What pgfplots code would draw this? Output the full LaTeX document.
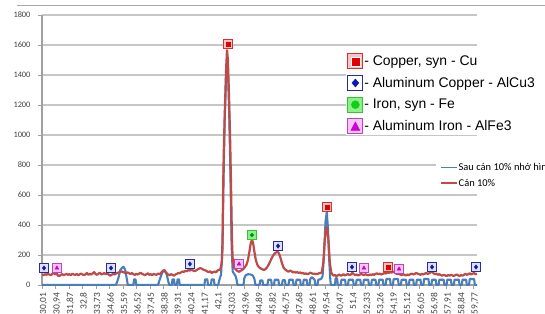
\documentclass[border=0pt]{standalone}
\usepackage{pgfplots}
\usepackage{pgfplotstable}
\pgfplotsset{compat=1.18}
\usepackage{fontspec}
\setmainfont{Carlito}
\newfontfamily\arialf{Liberation Sans}
\definecolor{ser1}{HTML}{4A7EBB}
\definecolor{ser2}{HTML}{BE4B48}
\definecolor{gridc}{HTML}{C6C6C6}
\definecolor{axc}{HTML}{A0A0A0}
\definecolor{cuD}{HTML}{D83030}
\definecolor{cuL}{HTML}{F8C4C4}
\definecolor{cuI}{HTML}{E00000}
\definecolor{acD}{HTML}{2A2AA0}
\definecolor{acL}{HTML}{DCE0F8}
\definecolor{acI}{HTML}{0A1AB0}
\definecolor{feD}{HTML}{38C038}
\definecolor{feL}{HTML}{8CF08C}
\definecolor{feI}{HTML}{10D010}
\definecolor{afD}{HTML}{B848B8}
\definecolor{afL}{HTML}{F6C4F6}
\definecolor{afI}{HTML}{D000D0}

\pgfplotstableread[row sep=\\]{x y\\ 42.83 1607\\ 49.66 520\\ 53.86 120\\}\cutab
\pgfplotstableread[row sep=\\]{x y\\ 30.14 113\\ 34.76 113\\ 40.20 140\\ 46.28 260\\ 51.38 120\\ 56.90 120\\ 59.93 120\\}\actab
\pgfplotstableread[row sep=\\]{x y\\ 44.48 333\\}\fetab
\pgfplotstableread[row sep=\\]{x y\\ 31.03 113\\ 43.59 140\\ 52.20 113\\ 54.62 107\\}\aftab

\begin{document}
\begin{tikzpicture}[x=1bp,y=1bp]
\draw[gridc!85!black, line width=0.8bp] (17,308) -- (545,308);
\begin{axis}[
  at={(42bp,28bp)}, anchor=south west, scale only axis,
  width=435bp, height=270bp,
  xmin=30, xmax=60, ymin=0, ymax=1800,
  ytick={0,200,...,1800},
  xtick={30.01,30.94,31.87,32.80,33.73,34.66,35.59,36.52,37.45,38.38,39.31,40.24,41.17,42.10,43.03,43.96,44.89,45.82,46.75,47.68,48.61,49.54,50.47,51.40,52.33,53.26,54.19,55.12,56.05,56.98,57.91,58.84,59.77},
  xticklabels={{30,01},{30,94},{31,87},{32,8},{33,73},{34,66},{35,59},{36,52},{37,45},{38,38},{39,31},{40,24},{41,17},{42,1},{43,03},{43,96},{44,89},{45,82},{46,75},{47,68},{48,61},{49,54},{50,47},{51,4},{52,33},{53,26},{54,19},{55,12},{56,05},{56,98},{57,91},{58,84},{59,77}},
  axis x line*=bottom, axis y line*=left,
  axis line style={-, axc, line width=1.2bp},
  ymajorgrids, grid style={gridc, line width=1.2bp},
  tick style={axc, line width=0.8bp}, major tick length=4bp, tick align=outside,
  yticklabel style={font=\fontsize{8.4}{9}\selectfont, text=black!75, xshift=-4bp},
  xticklabel style={rotate=90, anchor=east, font=\fontsize{9.5}{10}\selectfont, text=black!75, yshift=-1.5bp},
  /pgf/number format/assume math mode=true,
  /pgf/number format/1000 sep={},
  legend cell align=left,
  legend image code/.code={\draw[#1, line width=1.8bp] (0bp,0bp) -- (16bp,0bp);},
  legend style={at={(axis description cs:0.905,0.463)}, anchor=north west, draw=none, fill=white,
    inner xsep=4bp, inner ysep=2bp, font=\fontsize{10.5}{11}\selectfont, row sep=5bp,
    nodes={inner sep=1bp}},
]
\addplot[ser1, line width=2.1bp, line join=round] table[row sep=\\]{x y\\
30.0 0\\ 35.1 0\\ 35.25 40\\ 35.4 100\\ 35.55 118\\ 35.65 120\\ 35.75 95\\ 35.85 40\\ 35.92 0\\ 36.3 0\\ 36.35 38\\ 36.45 38\\ 36.5 0\\
38.0 0\\ 38.15 45\\ 38.3 85\\ 38.45 100\\ 38.6 70\\ 38.72 20\\ 38.78 0\\ 38.95 0\\ 39.0 38\\ 39.1 38\\ 39.15 0\\ 39.3 0\\ 39.35 38\\ 39.45 38\\ 39.5 0\\
41.2 0\\ 41.25 38\\ 41.4 38\\ 41.45 0\\ 41.65 0\\ 41.7 38\\ 41.85 38\\ 41.9 0\\ 42.15 0\\ 42.25 40\\ 42.35 70\\ 42.45 250\\ 42.52 700\\ 42.6 1100\\ 42.7 1400\\ 42.76 1500\\ 42.84 1380\\ 42.92 1100\\ 43.0 700\\ 43.08 250\\ 43.15 90\\ 43.25 75\\ 43.35 60\\ 43.42 35\\ 43.48 0\\
43.9 0\\ 43.95 45\\ 44.05 65\\ 44.2 72\\ 44.4 70\\ 44.55 62\\ 44.65 40\\ 44.72 0\\ 45.0 0\\ 45.05 30\\ 45.2 30\\ 45.25 0\\ 45.55 0\\ 45.6 35\\ 45.8 35\\ 45.85 0\\ 46.0 0\\ 46.05 35\\ 46.3 35\\ 46.35 0\\ 46.55 0\\ 46.6 32\\ 46.75 32\\ 46.8 0\\
47.0 0\\ 47.05 35\\ 47.3 35\\ 47.35 0\\ 47.5 0\\ 47.55 35\\ 47.8 35\\ 47.85 0\\ 48.0 0\\ 48.05 35\\ 48.25 35\\ 48.3 0\\ 48.45 0\\ 48.5 40\\ 48.6 52\\ 48.7 45\\ 48.8 35\\ 48.85 0\\ 49.0 0\\ 49.05 35\\ 49.25 40\\ 49.35 60\\ 49.45 200\\ 49.55 420\\ 49.64 487\\ 49.72 380\\ 49.8 180\\ 49.88 40\\ 49.92 0\\
50.2 0\\ 50.25 45\\ 50.35 45\\ 50.4 0\\ 50.6 0\\ 50.65 35\\ 50.9 35\\ 50.95 0\\ 51.1 0\\ 51.15 35\\ 51.45 35\\ 51.5 0\\ 51.65 0\\ 51.7 35\\ 51.95 35\\ 52.0 0\\ 52.15 0\\ 52.2 35\\ 52.5 35\\ 52.55 0\\ 52.7 0\\ 52.75 35\\ 53.0 35\\ 53.05 0\\ 53.2 0\\ 53.25 35\\ 53.5 35\\ 53.55 0\\ 53.7 0\\ 53.75 40\\ 54.0 40\\ 54.05 0\\ 54.2 0\\ 54.25 40\\ 54.55 40\\ 54.6 0\\ 54.75 0\\ 54.8 35\\ 55.1 35\\ 55.15 0\\ 55.3 0\\ 55.35 35\\ 55.6 35\\ 55.65 0\\ 55.8 0\\ 55.85 35\\ 56.1 35\\ 56.15 0\\ 56.3 0\\ 56.35 40\\ 56.65 40\\ 56.7 0\\ 56.85 0\\ 56.9 35\\ 57.15 35\\ 57.2 0\\ 57.35 0\\ 57.4 35\\ 57.7 35\\ 57.75 0\\ 57.9 0\\ 57.95 35\\ 58.2 35\\ 58.25 0\\ 58.4 0\\ 58.45 35\\ 58.75 35\\ 58.8 0\\ 58.95 0\\ 59.0 35\\ 59.25 35\\ 59.3 0\\ 59.45 0\\ 59.5 40\\ 59.8 40\\ 59.85 0\\ 60.0 0\\
};
\addlegendentry{Sau cán 10\% nhớ hình}
\addplot[ser2, line width=2.2bp, line join=round] table[row sep=\\]{x y\\
30.0 70\\ 30.1 65\\ 30.2 72\\ 30.3 68\\ 30.4 75\\ 30.5 70\\ 30.6 66\\ 30.7 72\\ 30.8 85\\ 30.9 72\\ 31.0 80\\ 31.1 62\\ 31.2 60\\ 31.3 68\\ 31.4 72\\ 31.5 66\\ 31.6 70\\ 31.7 74\\ 31.8 68\\ 31.9 72\\
32.0 66\\ 32.1 75\\ 32.2 70\\ 32.3 68\\ 32.4 73\\ 32.5 65\\ 32.6 71\\ 32.7 76\\ 32.8 70\\ 32.9 66\\ 33.0 72\\ 33.1 80\\ 33.2 68\\ 33.3 74\\ 33.4 70\\ 33.5 78\\ 33.6 86\\ 33.7 72\\ 33.8 68\\ 33.9 76\\
34.0 82\\ 34.1 70\\ 34.2 74\\ 34.3 80\\ 34.4 72\\ 34.5 76\\ 34.6 70\\ 34.7 62\\ 34.8 68\\ 34.9 74\\ 35.0 70\\ 35.1 76\\ 35.2 80\\ 35.3 84\\ 35.4 88\\ 35.5 90\\ 35.6 86\\ 35.7 82\\ 35.8 80\\ 35.9 84\\
36.0 78\\ 36.1 74\\ 36.2 80\\ 36.3 72\\ 36.4 68\\ 36.5 74\\ 36.6 70\\ 36.7 76\\ 36.8 82\\ 36.9 74\\ 37.0 70\\ 37.1 66\\ 37.2 72\\ 37.3 78\\ 37.4 68\\ 37.5 72\\ 37.6 66\\ 37.7 74\\ 37.8 70\\ 37.9 68\\
38.0 76\\ 38.1 72\\ 38.2 80\\ 38.3 92\\ 38.4 98\\ 38.5 90\\ 38.6 78\\ 38.7 70\\ 38.8 66\\ 38.9 72\\ 39.0 68\\ 39.1 62\\ 39.2 70\\ 39.3 74\\ 39.4 80\\ 39.5 78\\ 39.6 85\\ 39.7 90\\ 39.8 88\\ 39.9 95\\
40.0 92\\ 40.1 100\\ 40.2 96\\ 40.3 104\\ 40.4 98\\ 40.5 92\\ 40.6 96\\ 40.7 102\\ 40.8 108\\ 40.9 112\\ 41.0 110\\ 41.1 104\\ 41.2 100\\ 41.3 96\\ 41.4 90\\ 41.5 86\\ 41.6 92\\ 41.7 80\\ 41.8 86\\ 41.9 90\\
42.0 84\\ 42.1 96\\ 42.2 100\\ 42.3 105\\ 42.4 150\\ 42.45 300\\ 42.5 700\\ 42.55 950\\ 42.62 1200\\ 42.7 1450\\ 42.76 1565\\ 42.82 1500\\ 42.9 1250\\ 42.98 950\\ 43.04 650\\ 43.1 300\\ 43.16 150\\ 43.25 115\\
43.4 100\\ 43.5 92\\ 43.6 88\\ 43.7 95\\ 43.8 100\\ 43.9 108\\ 44.0 120\\ 44.1 135\\ 44.2 165\\ 44.3 220\\ 44.4 280\\ 44.48 300\\ 44.55 285\\ 44.65 220\\ 44.75 165\\ 44.85 135\\ 44.95 120\\ 45.05 112\\
45.2 105\\ 45.3 100\\ 45.4 105\\ 45.5 115\\ 45.6 130\\ 45.7 150\\ 45.8 170\\ 45.9 190\\ 46.0 205\\ 46.1 215\\ 46.25 222\\ 46.35 210\\ 46.45 180\\ 46.55 145\\ 46.65 118\\ 46.75 105\\ 46.85 98\\
47.0 88\\ 47.1 96\\ 47.2 92\\ 47.3 84\\ 47.4 88\\ 47.5 82\\ 47.6 86\\ 47.7 80\\ 47.8 84\\ 47.9 78\\ 48.0 80\\ 48.1 74\\ 48.2 78\\ 48.3 72\\ 48.4 76\\ 48.5 82\\ 48.6 78\\ 48.7 74\\ 48.8 76\\ 48.9 72\\
49.0 74\\ 49.1 78\\ 49.2 80\\ 49.3 85\\ 49.4 150\\ 49.5 300\\ 49.6 380\\ 49.66 385\\ 49.75 300\\ 49.85 150\\ 49.95 80\\
50.0 75\\ 50.1 62\\ 50.2 66\\ 50.3 60\\ 50.4 64\\ 50.5 70\\ 50.6 62\\ 50.7 66\\ 50.8 72\\ 50.9 64\\ 51.0 68\\ 51.1 74\\ 51.2 66\\ 51.3 70\\ 51.4 82\\ 51.5 72\\ 51.6 66\\ 51.7 70\\ 51.8 64\\ 51.9 68\\
52.0 74\\ 52.1 70\\ 52.2 66\\ 52.3 72\\ 52.4 68\\ 52.5 64\\ 52.6 70\\ 52.7 66\\ 52.8 72\\ 52.9 68\\ 53.0 74\\ 53.1 78\\ 53.2 72\\ 53.3 76\\ 53.4 70\\ 53.5 74\\ 53.6 80\\ 53.7 76\\ 53.8 84\\ 53.9 80\\
54.0 86\\ 54.1 82\\ 54.2 90\\ 54.3 84\\ 54.4 78\\ 54.5 72\\ 54.6 76\\ 54.7 70\\ 54.8 66\\ 54.9 72\\ 55.0 68\\ 55.1 64\\ 55.2 70\\ 55.3 66\\ 55.4 72\\ 55.5 76\\ 55.6 70\\ 55.7 74\\ 55.8 80\\ 55.9 76\\
56.0 72\\ 56.1 68\\ 56.2 74\\ 56.3 70\\ 56.4 76\\ 56.5 80\\ 56.6 74\\ 56.7 78\\ 56.8 84\\ 56.9 92\\ 57.0 78\\ 57.1 72\\ 57.2 76\\ 57.3 68\\ 57.4 72\\ 57.5 66\\ 57.6 62\\ 57.7 68\\ 57.8 64\\ 57.9 60\\
58.0 66\\ 58.1 62\\ 58.2 68\\ 58.3 64\\ 58.4 60\\ 58.5 66\\ 58.6 70\\ 58.7 64\\ 58.8 60\\ 58.9 66\\ 59.0 62\\ 59.1 68\\ 59.2 74\\ 59.3 68\\ 59.4 72\\ 59.5 78\\ 59.6 70\\ 59.7 76\\ 59.8 80\\ 59.9 72\\ 60.0 74\\
};
\addlegendentry{Cán 10\%}
% phase markers
\addplot[forget plot, only marks, mark=square*, mark size=4.6bp, mark options={draw=cuD, fill=cuL, line width=0.9bp}] table {\cutab};
\addplot[forget plot, only marks, mark=square*, mark size=1.9bp, mark options={draw=cuI, fill=cuI}] table {\cutab};
\addplot[forget plot, only marks, mark=square*, mark size=4.6bp, mark options={draw=acD, fill=acL, line width=0.9bp}] table {\actab};
\addplot[forget plot, only marks, mark=diamond*, mark size=2.2bp, mark options={draw=acI, fill=acI}] table {\actab};
\addplot[forget plot, only marks, mark=square*, mark size=4.6bp, mark options={draw=feD, fill=feL, line width=0.9bp}] table {\fetab};
\addplot[forget plot, only marks, mark=*, mark size=1.9bp, mark options={draw=feI!70!black, fill=feI!70!black}] table {\fetab};
\addplot[forget plot, only marks, mark=square*, mark size=4.6bp, mark options={draw=afD, fill=afL, line width=0.9bp}] table {\aftab};
\addplot[forget plot, only marks, mark=triangle*, mark size=2.2bp, mark options={draw=afI, fill=afI}] table {\aftab};
\end{axis}
\begin{axis}[
  at={(42bp,28bp)}, anchor=south west, scale only axis,
  width=435bp, height=270bp, hide axis,
  xmin=0, xmax=1, ymin=0, ymax=1,
  legend cell align=left,
  legend style={at={(axis description cs:0.699,0.863)}, anchor=north west, draw=none, fill=white,
    inner sep=1bp, font=\arialf\fontsize{14}{16}\selectfont, row sep=5.5bp,
    nodes={inner sep=0.8bp}},
]
\addlegendimage{legend image code/.code={\draw[draw=cuD, fill=cuL, line width=1.2bp] (0bp,-7.5bp) rectangle (15bp,7.5bp); \fill[white] (3bp,-4.5bp) rectangle (12bp,4.5bp); \fill[cuI] (4bp,-3.5bp) rectangle (11bp,3.5bp);}}
\addlegendentry{- Copper, syn - Cu}
\addlegendimage{legend image code/.code={\draw[draw=acD, fill=white, line width=1.2bp] (0bp,-7.5bp) rectangle (15bp,7.5bp); \fill[acI] (7.5bp,-4bp) -- (11bp,0bp) -- (7.5bp,4bp) -- (4bp,0bp) -- cycle;}}
\addlegendentry{- Aluminum Copper - AlCu3}
\addlegendimage{legend image code/.code={\draw[draw=feD, fill=feL, line width=1.2bp] (0bp,-7.5bp) rectangle (15bp,7.5bp); \fill[feI] (7.5bp,0bp) circle (4bp);}}
\addlegendentry{- Iron, syn - Fe}
\addlegendimage{legend image code/.code={\draw[draw=afD, fill=afL, line width=1.2bp] (0bp,-7.5bp) rectangle (15bp,7.5bp); \fill[afI] (7.5bp,4.5bp) -- (12bp,-4bp) -- (3bp,-4bp) -- cycle;}}
\addlegendentry{- Aluminum Iron - AlFe3}
\end{axis}
\pgfresetboundingbox
\useasboundingbox (0,0) rectangle (545,313);
\end{tikzpicture}
\end{document}
